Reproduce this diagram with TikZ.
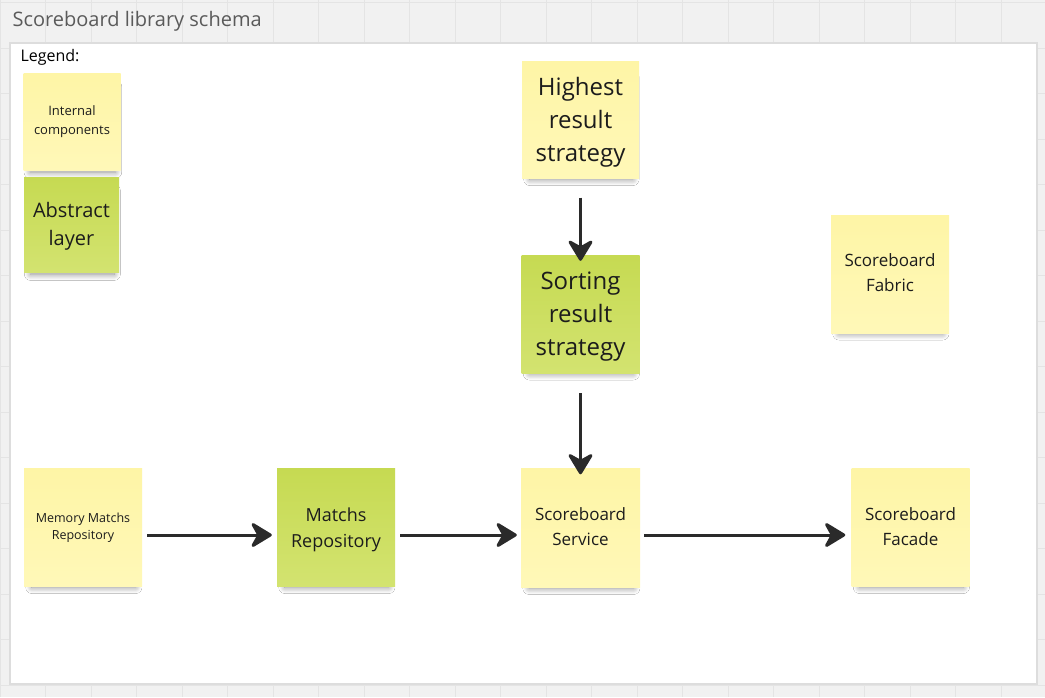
\documentclass[tikz,border=0pt]{standalone}
\usepackage{fontspec}
\setmainfont{Open Sans}
\usetikzlibrary{arrows.meta,shadows.blur}
\definecolor{bggray}{HTML}{F1F1F1}
\definecolor{gridgray}{HTML}{E4E4E4}
\definecolor{framegray}{HTML}{DDDDDD}
\definecolor{titlegray}{HTML}{5A5A5A}
\definecolor{yeltop}{HTML}{FEF5A6}
\definecolor{yelbot}{HTML}{FFF8B8}
\definecolor{grntop}{HTML}{C6DA52}
\definecolor{grnbot}{HTML}{D3E370}
\definecolor{inkc}{HTML}{1C1C1C}
\definecolor{arrowc}{HTML}{2A2A2A}
\tikzset{
  x=1pt, y=-1pt,
  sticky/.style={minimum width=#1, minimum height=#1, inner sep=0pt,
    blur shadow={shadow xshift=1pt, shadow yshift=-9pt, shadow scale=0.88, shadow blur steps=14, shadow blur radius=7pt, shadow opacity=45}},
  yel/.style={sticky=#1, top color=yeltop, bottom color=yelbot},
  grn/.style={sticky=#1, top color=grntop, bottom color=grnbot},
  txt/.style={align=center, text=inkc, inner sep=0pt},
  flow/.style={draw=arrowc, line width=3pt, -{Stealth[length=24pt,width=29pt,inset=8pt,round]}},
}
\begin{document}
\begin{tikzpicture}
\useasboundingbox (0,0) rectangle (1045,697);
\fill[bggray] (0,0) rectangle (1045,697);
\foreach \i in {0,...,23} {\draw[gridgray, line width=1pt] (\i*45.5,0) -- (\i*45.5,697);}
\foreach \j in {0,...,15} {\draw[gridgray, line width=1pt] (0,685-\j*45.5) -- (1045,685-\j*45.5);}
\draw[framegray, fill=white, line width=1.2pt] (10,43) rectangle (1037,684);
\node[anchor=west, text=titlegray, font=\fontsize{20}{24}\selectfont] (title) at (9,21) {Scoreboard library schema};
\node[anchor=west, text=black, font=\fontsize{16}{19}\selectfont] (legend) at (17,57) {Legend:};

\node[yel=97pt] (internal) at (72,121.5) {};
\node[grn=95pt] (abstract) at (71.5,224.5) {};
\node[yel=117pt] (highest) at (580.5,120) {};
\node[grn=118pt] (sorting) at (580.5,314) {};
\node[yel=118pt] (fabric) at (890,274) {};
\node[yel=118pt] (memory) at (83,527.5) {};
\node[grn=118pt] (matchs) at (336,527.5) {};
\node[yel=119pt] (service) at (580.5,528) {};
\node[yel=118pt] (facade) at (910.5,527.5) {};

\node[txt, font=\fontsize{13}{19}\selectfont] (internalT) at (internal.center) {Internal\\components};
\node[txt, font=\fontsize{20}{28}\selectfont] (abstractT) at ([yshift=-2pt]abstract.center) {Abstract\\layer};
\node[txt, font=\fontsize{24}{33}\selectfont] (highestT) at ([yshift=-2pt]highest.center) {Highest\\result\\strategy};
\node[txt, font=\fontsize{24}{33}\selectfont] (sortingT) at ([yshift=-3pt]sorting.center) {Sorting\\result\\strategy};
\node[txt, font=\fontsize{17}{25}\selectfont] (fabricT) at ([yshift=1pt]fabric.center) {Scoreboard\\Fabric};
\node[txt, font=\fontsize{12.5}{17}\selectfont] (memoryT) at (memory.center) {Memory Matchs\\Repository};
\node[txt, font=\fontsize{18}{26}\selectfont] (matchsT) at ([yshift=-2pt]matchs.center) {Matchs\\Repository};
\node[txt, font=\fontsize{17}{25}\selectfont] (serviceT) at ([yshift=1pt]service.center) {Scoreboard\\Service};
\node[txt, font=\fontsize{17}{25}\selectfont] (facadeT) at ([yshift=1pt]facade.center) {Scoreboard\\Facade};

\draw[flow] ([yshift=-19pt]highest.south) -- ([yshift=-6pt]highest.south |- sorting.north);
\draw[flow] ([yshift=-20pt]sorting.south) -- ([yshift=-6pt]sorting.south |- service.north);
\draw[flow] ([xshift=5pt]memory.east |- 0,535) -- ([xshift=-5pt]matchs.west |- 0,535);
\draw[flow] ([xshift=5pt]matchs.east |- 0,535) -- ([xshift=-4pt]service.west |- 0,535);
\draw[flow] ([xshift=4pt]service.east |- 0,535) -- ([xshift=-6pt]facade.west |- 0,535);
\end{tikzpicture}
\end{document}
